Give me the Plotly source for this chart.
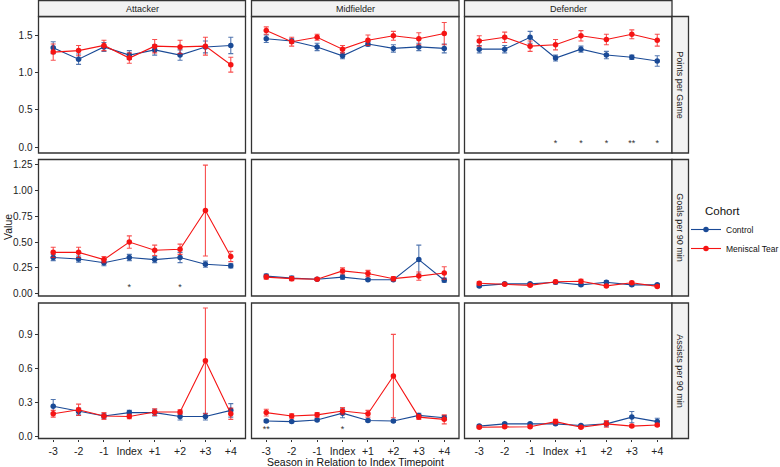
import plotly.graph_objects as go
from plotly.subplots import make_subplots

# ---- data ----
seasons = ["-3", "-2", "-1", "Index", "+1", "+2", "+3", "+4"]
positions = ["Attacker", "Midfielder", "Defender"]
metrics = ["Points per Game", "Goals per 90 min", "Assists per 90 min"]
cohorts = ["Control", "Meniscal Tear"]

# Points per game
ppg_att_ctrl = [1.34, 1.185, 1.35, 1.24, 1.31, 1.24, 1.35, 1.37]
ppg_att_ctrl_se = [0.08, 0.07, 0.06, 0.06, 0.07, 0.07, 0.08, 0.11]
ppg_att_mt = [1.28, 1.30, 1.37, 1.20, 1.36, 1.35, 1.36, 1.11]
ppg_att_mt_se = [0.11, 0.07, 0.07, 0.07, 0.09, 0.09, 0.12, 0.10]
ppg_mid_ctrl = [1.46, 1.43, 1.35, 1.23, 1.39, 1.33, 1.35, 1.33]
ppg_mid_ctrl_se = [0.05, 0.03, 0.05, 0.04, 0.03, 0.05, 0.05, 0.06]
ppg_mid_mt = [1.57, 1.42, 1.48, 1.32, 1.44, 1.50, 1.46, 1.53]
ppg_mid_mt_se = [0.05, 0.06, 0.04, 0.05, 0.07, 0.06, 0.08, 0.15]
ppg_def_ctrl = [1.32, 1.32, 1.48, 1.20, 1.32, 1.24, 1.21, 1.16]
ppg_def_ctrl_se = [0.05, 0.05, 0.08, 0.04, 0.04, 0.05, 0.03, 0.07]
ppg_def_mt = [1.43, 1.48, 1.36, 1.38, 1.50, 1.45, 1.52, 1.44]
ppg_def_mt_se = [0.07, 0.07, 0.07, 0.07, 0.07, 0.07, 0.06, 0.08]

# Goals per 90 min
g90_att_ctrl = [0.35, 0.335, 0.30, 0.35, 0.33, 0.35, 0.285, 0.27]
g90_att_ctrl_se = [0.03, 0.03, 0.03, 0.03, 0.03, 0.05, 0.03, 0.02]
g90_att_mt = [0.40, 0.40, 0.33, 0.50, 0.42, 0.43, 0.805, 0.36]
g90_att_mt_se = [0.05, 0.05, 0.03, 0.06, 0.05, 0.05, 0.44, 0.05]
g90_mid_ctrl = [0.17, 0.15, 0.14, 0.16, 0.135, 0.135, 0.33, 0.13]
g90_mid_ctrl_se = [0.02, 0.02, 0.01, 0.02, 0.01, 0.01, 0.14, 0.02]
g90_mid_mt = [0.16, 0.145, 0.14, 0.22, 0.195, 0.145, 0.17, 0.20]
g90_mid_mt_se = [0.02, 0.02, 0.01, 0.03, 0.03, 0.02, 0.04, 0.06]
g90_def_ctrl = [0.075, 0.095, 0.095, 0.11, 0.085, 0.11, 0.085, 0.085]
g90_def_ctrl_se = [0.01, 0.01, 0.01, 0.015, 0.01, 0.015, 0.01, 0.01]
g90_def_mt = [0.10, 0.09, 0.08, 0.115, 0.12, 0.075, 0.105, 0.07]
g90_def_mt_se = [0.015, 0.01, 0.01, 0.015, 0.02, 0.01, 0.015, 0.01]

# Assists per 90 min
a90_att_ctrl = [0.266, 0.22, 0.18, 0.21, 0.21, 0.175, 0.175, 0.23]
a90_att_ctrl_se = [0.06, 0.03, 0.02, 0.02, 0.03, 0.03, 0.03, 0.06]
a90_att_mt = [0.20, 0.235, 0.18, 0.175, 0.215, 0.215, 0.67, 0.20]
a90_att_mt_se = [0.03, 0.05, 0.03, 0.02, 0.03, 0.02, 0.47, 0.05]
a90_mid_ctrl = [0.135, 0.13, 0.145, 0.205, 0.14, 0.135, 0.185, 0.165]
a90_mid_ctrl_se = [0.01, 0.01, 0.01, 0.04, 0.01, 0.01, 0.02, 0.02]
a90_mid_mt = [0.21, 0.18, 0.19, 0.225, 0.20, 0.535, 0.17, 0.15]
a90_mid_mt_se = [0.03, 0.02, 0.02, 0.03, 0.03, 0.37, 0.02, 0.04]
a90_def_ctrl = [0.09, 0.11, 0.11, 0.11, 0.095, 0.11, 0.17, 0.13]
a90_def_ctrl_se = [0.01, 0.01, 0.01, 0.01, 0.01, 0.02, 0.05, 0.03]
a90_def_mt = [0.08, 0.085, 0.085, 0.13, 0.08, 0.11, 0.09, 0.10]
a90_def_mt_se = [0.01, 0.01, 0.01, 0.02, 0.01, 0.03, 0.01, 0.01]

# significance markers: (metric, position, season, label)
sig_metric = ["Points per Game"] * 5 + ["Goals per 90 min"] * 2 + ["Assists per 90 min"] * 2
sig_position = ["Defender"] * 5 + ["Attacker"] * 2 + ["Midfielder"] * 2
sig_season = ["Index", "+1", "+2", "+3", "+4", "Index", "+2", "-3", "Index"]
sig_label = ["*", "*", "*", "**", "*", "*", "*", "**", "*"]

# y tick labels per row
row_ticks = [[0.0, 0.5, 1.0, 1.5], [0.0, 0.25, 0.5, 0.75, 1.0, 1.25], [0.0, 0.3, 0.6, 0.9]]
row_ticktext = [["0.0", "0.5", "1.0", "1.5"],
                ["0.00", "0.25", "0.50", "0.75", "1.00", "1.25"],
                ["0.0", "0.3", "0.6", "0.9"]]

series = {
    ("Points per Game", "Attacker"): [(ppg_att_ctrl, ppg_att_ctrl_se), (ppg_att_mt, ppg_att_mt_se)],
    ("Points per Game", "Midfielder"): [(ppg_mid_ctrl, ppg_mid_ctrl_se), (ppg_mid_mt, ppg_mid_mt_se)],
    ("Points per Game", "Defender"): [(ppg_def_ctrl, ppg_def_ctrl_se), (ppg_def_mt, ppg_def_mt_se)],
    ("Goals per 90 min", "Attacker"): [(g90_att_ctrl, g90_att_ctrl_se), (g90_att_mt, g90_att_mt_se)],
    ("Goals per 90 min", "Midfielder"): [(g90_mid_ctrl, g90_mid_ctrl_se), (g90_mid_mt, g90_mid_mt_se)],
    ("Goals per 90 min", "Defender"): [(g90_def_ctrl, g90_def_ctrl_se), (g90_def_mt, g90_def_mt_se)],
    ("Assists per 90 min", "Attacker"): [(a90_att_ctrl, a90_att_ctrl_se), (a90_att_mt, a90_att_mt_se)],
    ("Assists per 90 min", "Midfielder"): [(a90_mid_ctrl, a90_mid_ctrl_se), (a90_mid_mt, a90_mid_mt_se)],
    ("Assists per 90 min", "Defender"): [(a90_def_ctrl, a90_def_ctrl_se), (a90_def_mt, a90_def_mt_se)],
}

# ---- layout geometry (pixels) ----
W, H = 780, 467
col_px = [(38.5, 245.5), (251.5, 459), (464.5, 672)]
row_px = [(16.5, 153), (159.5, 296), (303, 438.5)]
row_range = [[-0.08, 1.76], [-0.023, 1.30], [-0.02, 1.184]]
sig_y = [0.04, 0.06, 0.055]

colors = {"Control": "#1A4A96", "Meniscal Tear": "#F51414"}
err_colors = {"Control": "rgba(26,74,150,0.75)", "Meniscal Tear": "rgba(245,20,20,0.75)"}
AX = "#333333"
FONT = "Arial, Liberation Sans, sans-serif"

fig = make_subplots(rows=3, cols=3)

for r, metric in enumerate(metrics):
    for c, pos in enumerate(positions):
        for k, cohort in enumerate(cohorts):
            vals, se = series[(metric, pos)][k]
            fig.add_trace(go.Scatter(
                x=seasons, y=vals,
                mode="lines+markers",
                name=cohort,
                legendgroup=cohort,
                showlegend=(r == 0 and c == 0),
                line=dict(color=colors[cohort], width=1.1),
                marker=dict(color=colors[cohort], size=5.5),
                error_y=dict(type="data", array=se, visible=True,
                             color=err_colors[cohort], thickness=1.1, width=2.5),
            ), row=r + 1, col=c + 1)

        # significance stars
        xs = [s for m, p, s in zip(sig_metric, sig_position, sig_season) if m == metric and p == pos]
        labs = [l for m, p, l in zip(sig_metric, sig_position, sig_label) if m == metric and p == pos]
        if xs:
            fig.add_trace(go.Scatter(
                x=xs, y=[sig_y[r]] * len(xs), mode="text", text=labs,
                textposition="middle center", showlegend=False, hoverinfo="skip",
                textfont=dict(size=9, color="#333333", family=FONT),
            ), row=r + 1, col=c + 1)

        idx = r * 3 + c + 1
        xa = "xaxis" if idx == 1 else f"xaxis{idx}"
        ya = "yaxis" if idx == 1 else f"yaxis{idx}"
        x0, x1 = col_px[c]
        y0, y1 = row_px[r]
        fig.layout[xa].update(
            domain=[x0 / W, x1 / W],
            type="category", categoryorder="array", categoryarray=seasons,
            range=[-0.58, 7.58],
            showgrid=False, zeroline=False, showline=False, automargin=False,
            ticks="outside" if r == 2 else "", ticklen=2.5, tickcolor=AX,
            showticklabels=(r == 2),
            tickfont=dict(size=10.5, color="#222222", family=FONT),
        )
        fig.layout[ya].update(
            domain=[1 - y1 / H, 1 - y0 / H],
            range=row_range[r],
            showgrid=False, zeroline=False, showline=False, automargin=False,
            tickvals=row_ticks[r], ticktext=row_ticktext[r],
            ticks="outside" if c == 0 else "", ticklen=3, tickcolor=AX,
            showticklabels=(c == 0),
            tickfont=dict(size=10, color="#222222", family=FONT),
        )

shapes = []
annotations = []
# panel borders
for (x0, x1) in col_px:
    for (y0, y1) in row_px:
        shapes.append(dict(type="rect", xref="paper", yref="paper",
                           x0=x0 / W, x1=x1 / W, y0=1 - y1 / H, y1=1 - y0 / H,
                           line=dict(color=AX, width=1.3), fillcolor="rgba(0,0,0,0)", layer="above"))
# top strips
for c, (x0, x1) in enumerate(col_px):
    shapes.append(dict(type="rect", xref="paper", yref="paper",
                       x0=x0 / W, x1=x1 / W, y0=1 - 16.5 / H, y1=1 - 0.5 / H,
                       line=dict(color=AX, width=1.3), fillcolor="#F2F2F2"))
    annotations.append(dict(text=positions[c], xref="paper", yref="paper",
                            x=(x0 + x1) / 2 / W, y=1 - 8.5 / H, showarrow=False,
                            xanchor="center", yanchor="middle",
                            font=dict(size=9, color="#1A1A1A", family=FONT)))
# right strips
for r, (y0, y1) in enumerate(row_px):
    shapes.append(dict(type="rect", xref="paper", yref="paper",
                       x0=672 / W, x1=688.5 / W, y0=1 - y1 / H, y1=1 - y0 / H,
                       line=dict(color=AX, width=1.3), fillcolor="#F2F2F2"))
    annotations.append(dict(text=metrics[r], xref="paper", yref="paper",
                            x=680.5 / W, y=1 - (y0 + y1) / 2 / H, showarrow=False,
                            xanchor="center", yanchor="middle",
                            textangle=90, font=dict(size=9, color="#1A1A1A", family=FONT)))

# axis titles
annotations.append(dict(text="Season in Relation to Index Timepoint", xref="paper", yref="paper",
                        x=355 / W, y=1 - 461.5 / H, showarrow=False,
                        xanchor="center", yanchor="middle",
                        font=dict(size=10.5, color="#111111", family=FONT)))
annotations.append(dict(text="Value", xref="paper", yref="paper",
                        x=8 / W, y=1 - 227 / H, showarrow=False, textangle=-90,
                        xanchor="center", yanchor="middle",
                        font=dict(size=10.5, color="#111111", family=FONT)))
annotations.append(dict(text="Cohort", xref="paper", yref="paper",
                        x=703 / W, y=1 - 211 / H, showarrow=False,
                        xanchor="left", yanchor="middle",
                        font=dict(size=11.5, color="#111111", family=FONT)))

fig.update_layout(
    width=W, height=H,
    margin=dict(l=0, r=0, t=0, b=0, autoexpand=False),
    paper_bgcolor="white", plot_bgcolor="white",
    shapes=shapes, annotations=annotations,
    font=dict(family=FONT),
    legend=dict(x=686 / W, y=1 - 215 / H, xanchor="left", yanchor="top",
                bgcolor="rgba(0,0,0,0)", tracegroupgap=0, itemwidth=30,
                font=dict(size=8.5, color="#111111", family=FONT)),
)

# the page body has a default 8px margin; drop it so the figure sits at the window origin
fig.write_html("out.html", config={"displayModeBar": False},
               post_script="document.body.style.margin='0';")
